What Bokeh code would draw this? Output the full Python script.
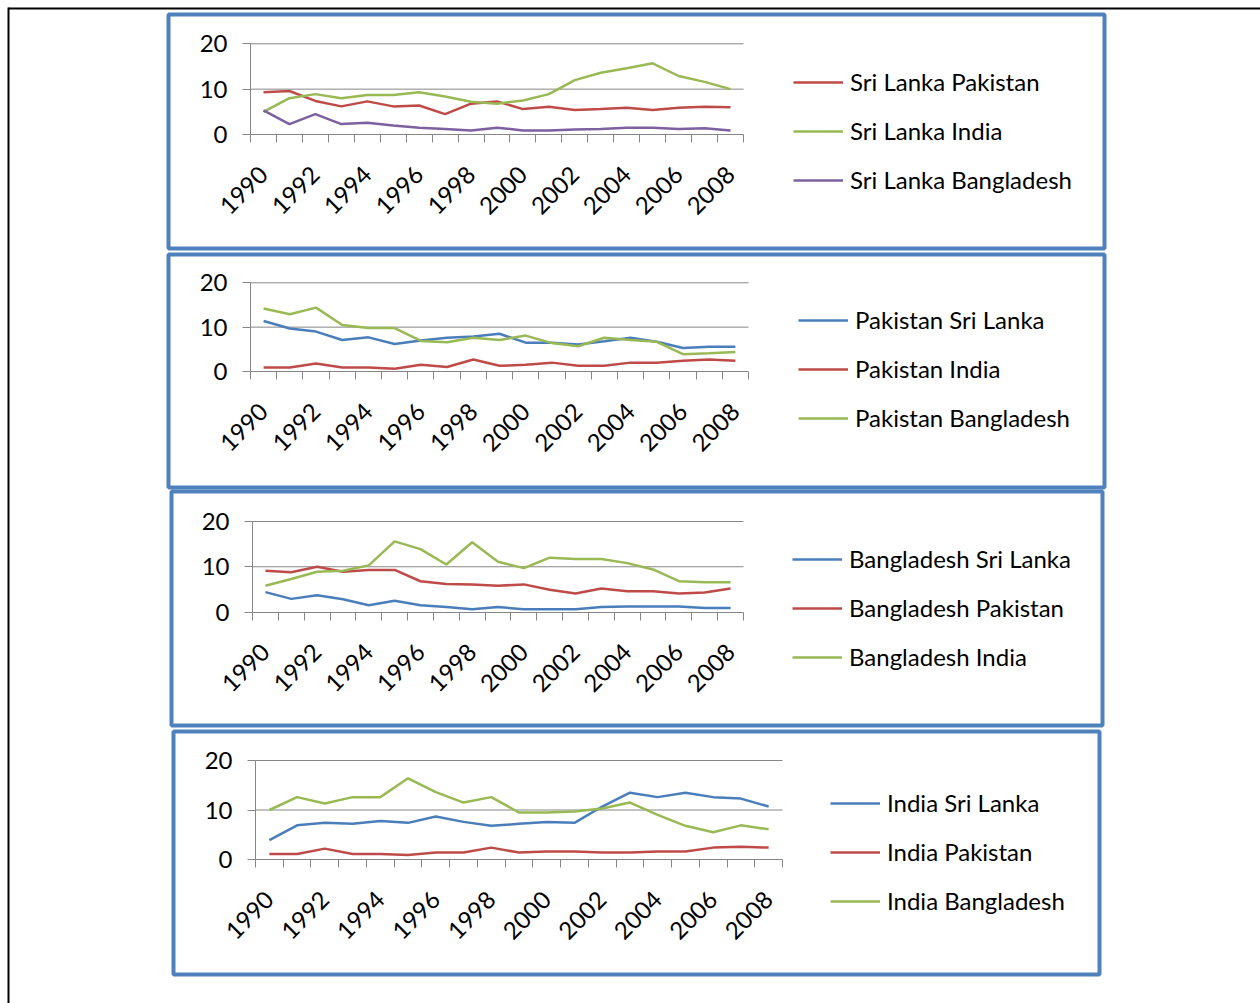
import math
from bokeh.plotting import figure
from bokeh.models import (Range1d, FixedTicker, Legend, LegendItem, LinearAxis)
from bokeh.embed import file_html
from bokeh.resources import INLINE

years = [1990, 1991, 1992, 1993, 1994, 1995, 1996, 1997, 1998, 1999,
         2000, 2001, 2002, 2003, 2004, 2005, 2006, 2007, 2008]
year_labels = ["1990", "1992", "1994", "1996", "1998", "2000", "2002", "2004", "2006", "2008"]
label_years = [1990, 1992, 1994, 1996, 1998, 2000, 2002, 2004, 2006, 2008]
y_ticks = [0, 10, 20]

# Panel 1: Sri Lanka
sl_pakistan = [9.3, 9.6, 7.4, 6.2, 7.3, 6.2, 6.4, 4.5, 6.8, 7.3, 5.6, 6.1, 5.4, 5.6, 5.9, 5.4, 5.9, 6.1, 6.0]
sl_india = [5.0, 8.0, 8.9, 8.0, 8.7, 8.7, 9.3, 8.4, 7.2, 6.8, 7.5, 8.9, 12.0, 13.6, 14.6, 15.7, 12.9, 11.6, 10.0]
sl_bangladesh = [5.3, 2.3, 4.5, 2.3, 2.6, 2.0, 1.5, 1.2, 0.9, 1.5, 0.9, 0.9, 1.1, 1.2, 1.5, 1.5, 1.2, 1.4, 0.9]

# Panel 2: Pakistan
pk_srilanka = [11.4, 9.7, 9.0, 7.1, 7.7, 6.2, 7.0, 7.6, 7.9, 8.5, 6.5, 6.5, 6.1, 6.8, 7.6, 6.7, 5.3, 5.6, 5.6]
pk_india = [0.9, 0.9, 1.8, 0.9, 0.9, 0.6, 1.5, 1.0, 2.7, 1.3, 1.5, 2.0, 1.3, 1.3, 2.0, 2.0, 2.4, 2.7, 2.4]
pk_bangladesh = [14.2, 12.9, 14.4, 10.5, 9.8, 9.8, 6.9, 6.6, 7.6, 7.1, 8.1, 6.4, 5.7, 7.6, 7.1, 6.7, 3.9, 4.1, 4.4]

# Panel 3: Bangladesh
bd_srilanka = [4.4, 2.9, 3.7, 2.8, 1.5, 2.5, 1.5, 1.1, 0.6, 1.1, 0.6, 0.6, 0.6, 1.1, 1.2, 1.2, 1.2, 0.9, 0.9]
bd_pakistan = [9.1, 8.8, 10.0, 8.9, 9.3, 9.3, 6.8, 6.2, 6.1, 5.8, 6.1, 4.9, 4.1, 5.2, 4.6, 4.6, 4.1, 4.3, 5.2]
bd_india = [5.8, 7.3, 8.9, 9.1, 10.3, 15.6, 13.9, 10.5, 15.4, 11.1, 9.7, 12.0, 11.7, 11.7, 10.8, 9.4, 6.8, 6.6, 6.6]

# Panel 4: India
in_srilanka = [3.9, 6.9, 7.4, 7.2, 7.8, 7.4, 8.7, 7.6, 6.8, 7.2, 7.6, 7.4, 10.7, 13.5, 12.6, 13.5, 12.6, 12.3, 10.7]
in_pakistan = [1.1, 1.1, 2.2, 1.1, 1.1, 0.9, 1.4, 1.4, 2.4, 1.4, 1.6, 1.6, 1.4, 1.4, 1.6, 1.6, 2.4, 2.6, 2.4]
in_bangladesh = [10.0, 12.6, 11.3, 12.6, 12.6, 16.4, 13.6, 11.5, 12.6, 9.5, 9.5, 9.7, 10.3, 11.5, 9.0, 6.8, 5.5, 6.9, 6.1]

BLUE = "#4A7EBB"
RED = "#BE4B48"
GREEN = "#98B954"
PURPLE = "#7D60A0"
GRAY = "#868686"
FRAME_BLUE = "#4F81BD"
FONT = "Lato"
W, H = 1260, 1003
ROW_H, ROW_GAP = 28, 20

# layout (page pixels): chart plot area, blue panel box, legend placement (left, top)
panels = [
    dict(plot=(250, 743, 43.3, 134.0), box=(166, 1106, 12, 250), legend=(793, 70),
         series=[("Sri Lanka Pakistan", sl_pakistan, RED),
                 ("Sri Lanka India", sl_india, GREEN),
                 ("Sri Lanka Bangladesh", sl_bangladesh, PURPLE)]),
    dict(plot=(250, 748, 282.3, 371.0), box=(166, 1106, 252, 489), legend=(798, 308),
         series=[("Pakistan Sri Lanka", pk_srilanka, BLUE),
                 ("Pakistan India", pk_india, RED),
                 ("Pakistan Bangladesh", pk_bangladesh, GREEN)]),
    dict(plot=(252, 743, 521.0, 611.5), box=(169, 1104, 489, 727), legend=(792, 547),
         series=[("Bangladesh Sri Lanka", bd_srilanka, BLUE),
                 ("Bangladesh Pakistan", bd_pakistan, RED),
                 ("Bangladesh India", bd_india, GREEN)]),
    dict(plot=(255, 782, 760.0, 859.0), box=(171, 1101, 729, 976), legend=(830, 791),
         series=[("India Sri Lanka", in_srilanka, BLUE),
                 ("India Pakistan", in_pakistan, RED),
                 ("India Bangladesh", in_bangladesh, GREEN)]),
]

p = figure(width=W, height=H, x_range=Range1d(0, W), y_range=Range1d(H, 0),
           min_border=0, x_axis_location=None, y_axis_location=None,
           output_backend="svg", toolbar_location=None)
p.grid.visible = False
p.outline_line_color = None
p.background_fill_color = "white"
p.border_fill_color = "white"

# outer black page frame (top and left rules)
p.quad(left=[8], right=[W], top=[7], bottom=[9], fill_color="black", line_color=None)
p.quad(left=[7], right=[9], top=[7], bottom=[H], fill_color="black", line_color=None)

x_lo = years[0] - 0.5
x_hi = years[-1] + 0.5
n_cat = len(years)
boundaries = [y - 0.5 for y in years] + [x_hi]

for k, pan in enumerate(panels):
    L, R, T, B = pan["plot"]
    xn, yn = "x%d" % k, "y%d" % k
    # ranges mapping chart data onto the panel's plot area
    span_x = n_cat * W / (R - L)
    a = x_lo - L * n_cat / (R - L)
    p.extra_x_ranges[xn] = Range1d(a, a + span_x)
    s = (B - T) / y_ticks[-1]
    top_v = y_ticks[-1] + T / s
    p.extra_y_ranges[yn] = Range1d(top_v - H / s, top_v)

    # blue panel border
    bl, br, bt, bb = pan["box"]
    p.quad(left=[bl + 2], right=[br - 2], top=[bt + 2], bottom=[bb - 2],
           fill_color=None, line_color=FRAME_BLUE, line_width=4)

    # horizontal gridlines
    gl = [t for t in y_ticks if t > 0]
    p.segment(x0=[x_lo] * len(gl), x1=[x_hi] * len(gl), y0=gl, y1=gl,
              x_range_name=xn, y_range_name=yn, line_color=GRAY, line_width=1)

    xa = LinearAxis(x_range_name=xn, y_range_name=yn, fixed_location=0,
                    bounds=(x_lo, x_hi),
                    ticker=FixedTicker(ticks=label_years, minor_ticks=boundaries))
    xa.major_label_overrides = {y: lab for y, lab in zip(label_years, year_labels)}
    xa.major_label_orientation = math.pi / 4
    xa.major_tick_out = 0
    xa.major_tick_in = 0
    xa.minor_tick_out = 8
    xa.minor_tick_in = 0
    xa.minor_tick_line_color = GRAY
    xa.axis_line_color = GRAY
    xa.major_label_standoff = 28
    xa.major_label_text_font = FONT
    xa.major_label_text_font_size = "24px"
    xa.major_label_text_color = "black"
    p.add_layout(xa, "below")

    ya = LinearAxis(x_range_name=xn, y_range_name=yn, fixed_location=x_lo,
                    bounds=(0, 20), ticker=FixedTicker(ticks=y_ticks))
    ya.major_tick_out = 8
    ya.major_tick_in = 0
    ya.minor_tick_out = 0
    ya.minor_tick_in = 0
    ya.major_tick_line_color = GRAY
    ya.axis_line_color = GRAY
    ya.major_label_standoff = 15
    ya.major_label_text_font = FONT
    ya.major_label_text_font_size = "24px"
    ya.major_label_text_color = "black"
    p.add_layout(ya, "left")

    items = []
    for name, vals, col in pan["series"]:
        r = p.line(years, vals, line_color=col, line_width=2.5,
                   x_range_name=xn, y_range_name=yn)
        items.append(LegendItem(label=name, renderers=[r]))

    lx, ltop = pan["legend"]
    n = len(items)
    leg_h = n * ROW_H + (n - 1) * ROW_GAP
    leg = Legend(items=items, location=(lx, H - (ltop + leg_h)), orientation="vertical",
                 border_line_color=None, background_fill_alpha=0, padding=0, margin=0,
                 spacing=ROW_GAP, glyph_width=50, glyph_height=ROW_H, label_height=ROW_H,
                 label_standoff=7, label_text_font=FONT, label_text_font_size="24px",
                 label_text_color="black")
    p.add_layout(leg)

open("out.html", "w").write(file_html(p, INLINE))
